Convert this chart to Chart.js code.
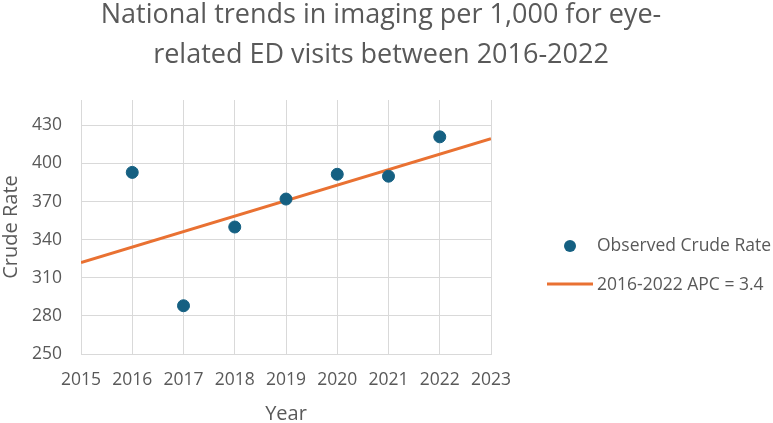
<!DOCTYPE html>
<html>
<head>
<meta charset="utf-8">
<script src="https://cdn.jsdelivr.net/npm/chart.js@4"></script>
<style>
  html, body { margin: 0; padding: 0; background: #ffffff; }
  #wrap { width: 773px; height: 423px; position: relative; }
</style>
</head>
<body>
<div id="wrap"><canvas id="canvas-myChart" width="773" height="423"></canvas></div>
<script>
const titleLines = ["National trends in imaging per 1,000 for eye-", "related ED visits between 2016-2022"];
const years = [2016, 2017, 2018, 2019, 2020, 2021, 2022];
const crudeRate = [393, 288, 350, 372, 391.5, 390, 421];
const trendYears = [2015, 2023];
const trendRate = [322, 419.5];
const xTicks = [2015, 2016, 2017, 2018, 2019, 2020, 2021, 2022, 2023];
const yTicks = [250, 280, 310, 340, 370, 400, 430];
const seriesNames = ["Observed Crude Rate", "2016-2022 APC = 3.4"];

const textColor = "#595959";
const gridColor = "#d9d9d9";
const dotColor = "#156082";
const lineColor = "#e97132";
const fontFamily = "'Open Sans', 'Liberation Sans', sans-serif";

// title and legend drawn by hand so they sit where the original has them
const titleAndLegend = {
  id: "titleAndLegend",
  afterDraw(chart) {
    const ctx = chart.ctx;
    ctx.save();
    ctx.fillStyle = textColor;
    ctx.textAlign = "center";
    ctx.textBaseline = "alphabetic";
    ctx.font = "27px " + fontFamily;
    ctx.fillText(titleLines[0], 381, 23);
    ctx.fillText(titleLines[1], 381, 63);

    // legend
    ctx.fillStyle = dotColor;
    ctx.beginPath();
    ctx.arc(570, 246, 6, 0, Math.PI * 2);
    ctx.fill();
    ctx.strokeStyle = lineColor;
    ctx.lineWidth = 3;
    ctx.beginPath();
    ctx.moveTo(547, 284);
    ctx.lineTo(593, 284);
    ctx.stroke();
    ctx.textAlign = "left";
    ctx.textBaseline = "middle";
    ctx.font = "17.5px " + fontFamily;
    ctx.fillStyle = textColor;
    ctx.fillText(seriesNames[0], 597, 246);
    ctx.fillText(seriesNames[1], 597, 285);
    ctx.restore();
  },
};

const ctx = document.getElementById("canvas-myChart").getContext("2d");
new Chart(ctx, {
  type: "scatter",
  data: {
    datasets: [
      {
        label: seriesNames[0],
        data: years.map((y, i) => ({ x: y, y: crudeRate[i] })),
        backgroundColor: dotColor,
        borderColor: dotColor,
        pointRadius: 6,
        order: 1,
      },
      {
        type: "line",
        label: seriesNames[1],
        data: trendYears.map((y, i) => ({ x: y, y: trendRate[i] })),
        borderColor: lineColor,
        borderWidth: 3,
        pointRadius: 0,
        fill: false,
        order: 2,
      },
    ],
  },
  options: {
    responsive: false,
    animation: false,
    layout: { padding: { top: 100, right: 282, left: 0, bottom: 0 } },
    plugins: {
      legend: { display: false },
      title: { display: false },
      tooltip: { enabled: false },
    },
    scales: {
      x: {
        type: "linear",
        min: 2015,
        max: 2023,
        afterBuildTicks: (scale) => { scale.ticks = xTicks.map((v) => ({ value: v })); },
        afterFit: (scale) => { scale.height = 69; },
        grid: { color: gridColor, drawTicks: false },
        border: { color: gridColor },
        ticks: {
          color: textColor,
          padding: 16,
          font: { family: fontFamily, size: 17.5 },
          callback: (v) => String(v),
        },
        title: {
          display: true,
          text: "Year",
          color: textColor,
          padding: { top: 0, bottom: -3 },
          font: { family: fontFamily, size: 20 },
        },
      },
      y: {
        min: 250,
        max: 450,
        afterBuildTicks: (scale) => { scale.ticks = yTicks.map((v) => ({ value: v })); },
        afterFit: (scale) => { scale.width = 81; },
        grid: { color: gridColor, drawTicks: false },
        border: { display: false },
        ticks: {
          color: textColor,
          padding: 19,
          font: { family: fontFamily, size: 17.5 },
        },
        title: {
          display: true,
          text: "Crude Rate",
          color: textColor,
          padding: { top: -1, bottom: 0 },
          font: { family: fontFamily, size: 20 },
        },
      },
    },
  },
  plugins: [titleAndLegend],
});
</script>
</body>
</html>
